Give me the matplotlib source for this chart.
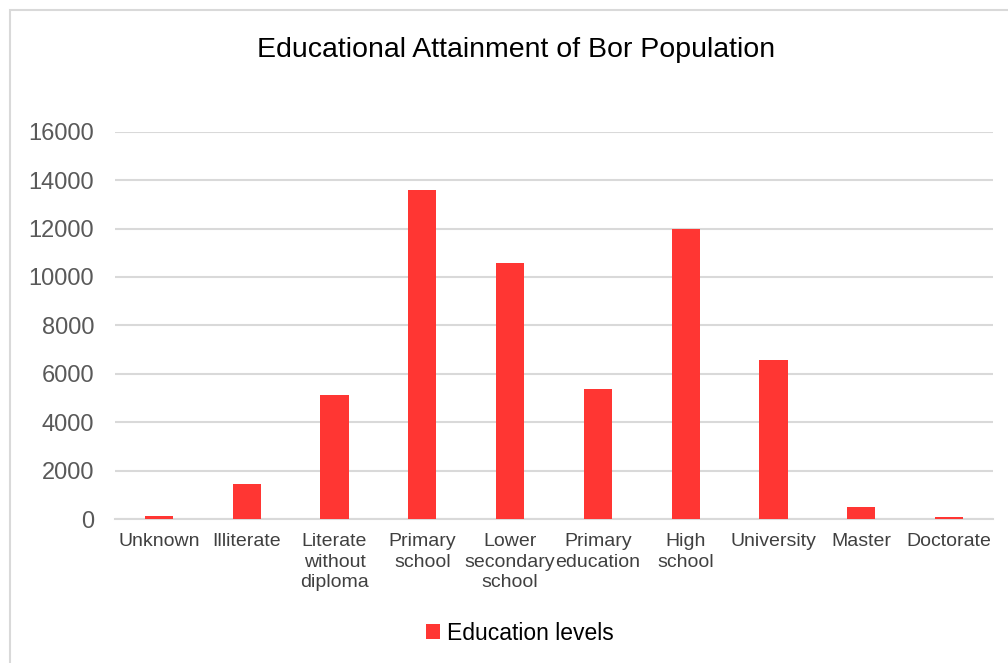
import matplotlib
matplotlib.use("Agg")
import matplotlib.pyplot as plt
from matplotlib.patches import Rectangle

categories = ["Unknown", "Illiterate", "Literate\nwithout\ndiploma", "Primary\nschool",
              "Lower\nsecondary\nschool", "Primary\neducation", "High\nschool",
              "University", "Master", "Doctorate"]
values = [140, 1460, 5110, 13610, 10580, 5390, 12000, 6560, 510, 85]
series_name = "Education levels"
title = "Educational Attainment of Bor Population"
yticks = [0, 2000, 4000, 6000, 8000, 10000, 12000, 14000, 16000]

plt.rcParams['font.family'] = ['Liberation Sans', 'DejaVu Sans']

fig = plt.figure(figsize=(10.08, 6.63), dpi=100)
fig.patches.append(Rectangle((10/1008, -0.1), 1.2, 1 - 10/663 + 0.1,
                             transform=fig.transFigure, fill=False,
                             edgecolor='#d9d9d9', linewidth=1.5))
ax = fig.add_axes([115/1008, 1 - 519/663, (993 - 115)/1008, (519 - 131.7)/663])

x = list(range(len(categories)))
ax.bar(x, values, width=0.32, color='#FF3633', label=series_name, zorder=3)
ax.set_xlim(-0.5, len(categories) - 0.5)
ax.set_ylim(0, 16000)
ax.set_yticks(yticks)
ax.set_yticklabels([str(v) for v in yticks], fontsize=17, color='#595959')
ax.set_xticks(x)
ax.set_xticklabels(categories, fontsize=14, color='#404040', linespacing=1.28, va='top')
ax.tick_params(axis='both', length=0)
ax.tick_params(axis='y', pad=15)
ax.tick_params(axis='x', pad=10)
ax.grid(axis='y', color='#d9d9d9', linewidth=1.5, zorder=0)
for s in ['top', 'right', 'left']:
    ax.spines[s].set_visible(False)
ax.spines['bottom'].set_color('#d9d9d9')
ax.spines['bottom'].set_linewidth(1.5)

fig.text(516/1008, 1 - 50/663, title, ha='center', va='center', fontsize=20.5, color='#000000')

leg = fig.legend(loc='center', bbox_to_anchor=(520/1008, 1 - 633/663), frameon=False,
                 fontsize=16.5, handlelength=0.6, handleheight=0.6, handletextpad=0.3)

fig.savefig("out.png", dpi=100, facecolor='white')
